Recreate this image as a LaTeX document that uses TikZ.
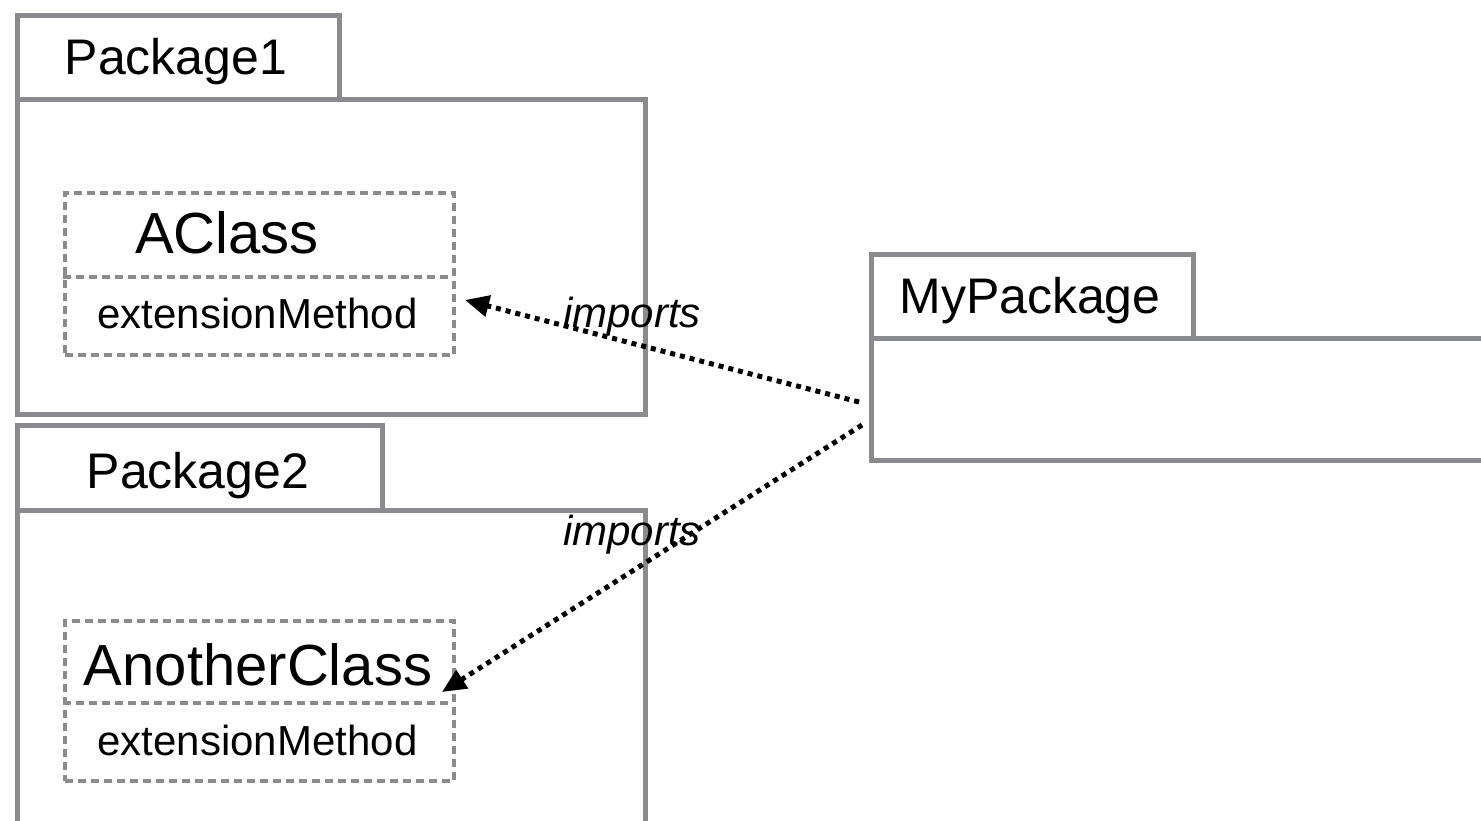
\documentclass[tikz,border=0pt]{standalone}
\usepackage{fontspec}
\setmainfont{Liberation Sans}
\usetikzlibrary{arrows.meta}
\definecolor{pkgray}{RGB}{137,139,142}
\begin{document}
\begin{tikzpicture}[x=1pt,y=-1pt,
  pkbox/.style={draw=pkgray, line width=5pt, inner sep=0pt, anchor=north west},
  clbox/.style={draw=pkgray, line width=4pt, dash pattern=on 8pt off 5pt, inner sep=0pt, anchor=north west, minimum width=389pt},
  cldiv/.style={draw=pkgray, line width=4pt, dash pattern=on 8pt off 5pt},
  pkname/.style={anchor=base, inner sep=0pt, font=\fontsize{50}{60}\selectfont},
  clname/.style={anchor=base, inner sep=0pt, font=\fontsize{58}{68}\selectfont},
  mname/.style={anchor=base, inner sep=0pt, font=\fontsize{42}{50}\selectfont},
  implabel/.style={anchor=base, inner sep=0pt, font=\fontsize{42}{50}\selectfont\itshape},
  imp/.style={line width=5pt, dash pattern=on 5pt off 5pt, -{Triangle[length=24pt,width=21pt]}}
]
\useasboundingbox (0,0) rectangle (1481,820);
% Package1
\node[pkbox, minimum width=322pt, minimum height=84pt] (p1tab) at (15,13) {};
\node[pkbox, minimum width=628pt, minimum height=315pt] (p1body) at (15,97) {};
\node[pkname] (p1name) at (176,74) {Package1};
\node[clbox, minimum height=162pt] (c1) at (63,191) {};
\coordinate (c1dl) at (63,277);
\coordinate (c1dr) at (452,277);
\draw[cldiv] (c1dl) -- (c1dr);
\node[clname] (c1name) at (227,253) {AClass};
\node[mname] (c1meth) at (257.5,328) {extensionMethod};
% Package2
\node[pkbox, minimum width=365pt, minimum height=85pt] (p2tab) at (15,423) {};
\node[pkbox, minimum width=628pt, minimum height=340pt] (p2body) at (15,508) {};
\node[pkname] (p2name) at (198,488) {Package2};
\node[clbox, minimum height=160pt] (c2) at (63,619) {};
\coordinate (c2dl) at (63,703);
\coordinate (c2dr) at (452,703);
\draw[cldiv] (c2dl) -- (c2dr);
\node[clname] (c2name) at (258,685) {AnotherClass};
\node[mname] (c2meth) at (257.5,755) {extensionMethod};
% MyPackage
\node[pkbox, minimum width=322pt, minimum height=84pt] (mytab) at (869,252) {};
\node[pkbox, minimum width=660pt, minimum height=122pt] (mybody) at (869,336) {};
\node[pkname] (myname) at (1030,313) {MyPackage};
% imports
\coordinate (i1s) at (859,402);
\coordinate (i1e) at (465,300);
\coordinate (i2s) at (862,425);
\coordinate (i2e) at (442,692);
\draw[imp] (i1s) -- (i1e);
\draw[imp] (i2s) -- (i2e);
\node[implabel] (l1) at (632,327) {imports};
\node[implabel] (l2) at (632,545) {imports};
\end{tikzpicture}
\end{document}
